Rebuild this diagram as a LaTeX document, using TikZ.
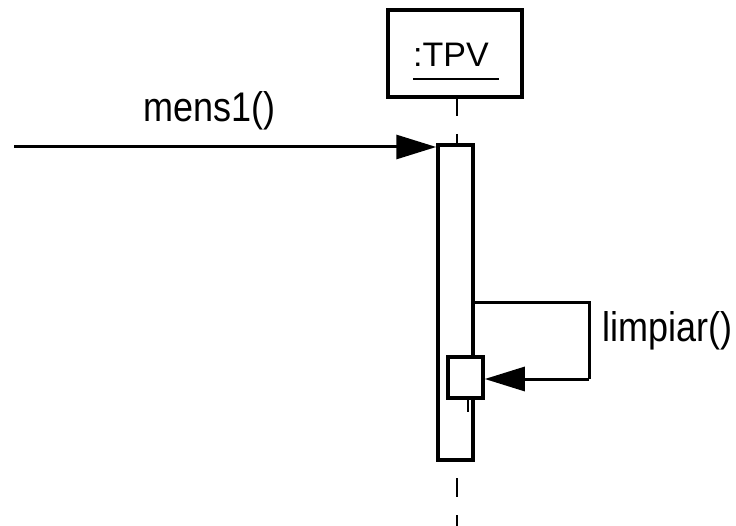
\documentclass[tikz,border=0pt]{standalone}
\usepackage{fontspec}
\setmainfont{Liberation Sans}
\usetikzlibrary{arrows.meta}
\begin{document}
\begin{tikzpicture}[x=1pt,y=-1pt,
  objbox/.style={draw,line width=4pt,inner sep=0pt,minimum width=134pt,minimum height=87pt,fill=white},
  actbar/.style={draw,line width=3.5pt,inner sep=0pt,fill=white},
  lifeline/.style={line width=2pt,dash pattern=on 19pt off 18pt},
  msg/.style={line width=3pt,-{Triangle[length=40pt,width=24pt]}},
  lbl/.style={anchor=base west,inner sep=0pt,font=\fontsize{36}{40}\selectfont}]
\useasboundingbox[fill=white] (0,0) rectangle (736,526);
% object box
\node[objbox] (tpv) at (455,53.5) {};
\node[anchor=base west,inner sep=0pt,font=\fontsize{34}{38}\selectfont] (tpvtxt) at (413,67) {:TPV};
\draw[line width=2.5pt] (413,79) -- (499,79);
% lifeline
\coordinate (lltop) at (457,97);
\coordinate (llbar) at (457,145);
\coordinate (llbot) at (457,460);
\coordinate (llend) at (457,526);
\draw[lifeline] (lltop) -- (llbar);
\draw[lifeline,dash phase=19pt] (llbot) -- (llend);
% activation bar
\node[actbar,minimum width=35pt,minimum height=315pt] (bar) at (455.5,302.5) {};
% incoming message
\coordinate (start) at (14,147);
\draw[msg] (start) -- (start -| bar.west);
\node[lbl] (m1) at (143,122) {\scalebox{1}[1.15]{mens1()}};
% nested activation
\node[actbar,minimum width=35pt,minimum height=41pt] (nest) at (465.5,377.5) {};
\draw[line width=2pt] ([xshift=2.5pt]nest.south) -- ++(0,12);
% self call
\coordinate (sc1) at (589,303);
\coordinate (sc2) at (589,379);
\draw[line width=3pt] (sc1 -| bar.east) -- (sc1) -- (sc2);
\draw[msg] (sc2) -- (sc2 -| nest.east);
\node[lbl] (lim) at (602,342) {\scalebox{1}[1.15]{limpiar()}};
\end{tikzpicture}
\end{document}
